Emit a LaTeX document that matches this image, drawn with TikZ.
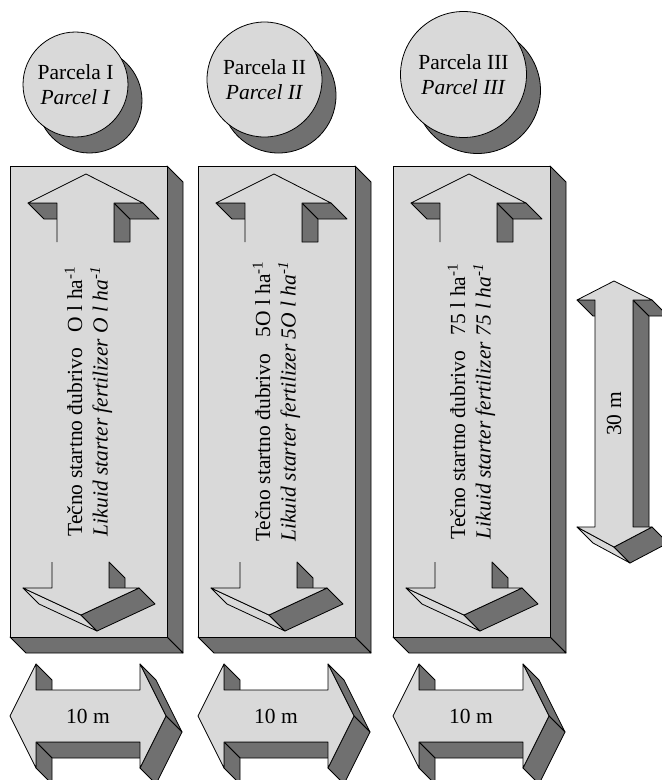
\documentclass[tikz,border=0pt]{standalone}
\usepackage{fontspec}
\setmainfont{Liberation Serif}
\definecolor{facegray}{RGB}{217,217,217}
\definecolor{sidegray}{RGB}{112,112,112}
\tikzset{
    edge line/.style={draw=black, line width=0.8pt, line join=round}, % Thin outlines
    face/.style={fill=facegray, edge line}, % Front faces
    side/.style={fill=sidegray, edge line}, % Dark depth faces
    parcel/.style={circle, inner sep=0pt, face, txt}, % Parcel discs
    parcel shadow/.style={circle, inner sep=0pt, side}, % Their shadows
    txt/.style={font=\fontsize{21.5}{25.5}\selectfont, align=center},
}

\begin{document}
\begin{tikzpicture}[x=1pt, y=-1pt]
    \useasboundingbox (0,0) rectangle (662,780);

    % Parcels
    \node[parcel shadow, minimum size=105] (p1s) at (89.5,100.5) {};
    \node[parcel, minimum size=105] (p1) at (75.5,84.5) {Parcela I\\\textit{Parcel I}};
    \node[parcel shadow, minimum size=115] (p2s) at (278.5,95.5) {};
    \node[parcel, minimum size=115] (p2) at (264.5,79.5) {Parcela II\\\textit{Parcel II}};
    \node[parcel shadow, minimum size=126] (p3s) at (477.5,90.5) {};
    \node[parcel, minimum size=126] (p3) at (463.5,74.5) {Parcela III\\\textit{Parcel III}};

    % Plots with their arrows
    \foreach \L/\dose [count=\i] in {10/O, 198/5O, 393/75} {
        % box
        \draw[side] (\L+157,166) -- (\L+173,182) -- (\L+173,653) -- (\L+157,637) -- cycle;
        \draw[side] (\L,637) -- (\L+157,637) -- (\L+173,653) -- (\L+16,653) -- cycle;
        \draw[face] (\L,166) rectangle (\L+157,637);
        % up arrow
        \draw[side] (\L+18,203) -- (\L+47,203) -- (\L+63,219) -- (\L+34,219) -- cycle;
        \draw[side] (\L+104,203) -- (\L+120,219) -- (\L+120,242) -- (\L+104,242) -- cycle;
        \draw[side] (\L+104,203) -- (\L+133,203) -- (\L+149,219) -- (\L+120,219) -- cycle;
        \fill[facegray] (\L+47,242) -- (\L+47,203) -- (\L+18,203) -- (\L+76,174)
            -- (\L+133,203) -- (\L+104,203) -- (\L+104,242) -- cycle;
        \draw[edge line] (\L+47,242) -- (\L+47,203) -- (\L+18,203) -- (\L+76,174)
            -- (\L+133,203) -- (\L+104,203) -- (\L+104,242);
        % down arrow
        \draw[side] (\L+99,562) -- (\L+115,578) -- (\L+115,604) -- (\L+99,588) -- cycle;
        \draw[face] (\L+13,588) -- (\L+71,615) -- (\L+87,631) -- (\L+29,604) -- cycle;
        \draw[side] (\L+71,615) -- (\L+129,588) -- (\L+145,604) -- (\L+87,631) -- cycle;
        \fill[facegray] (\L+42,562) -- (\L+42,588) -- (\L+13,588) -- (\L+71,615)
            -- (\L+129,588) -- (\L+99,588) -- (\L+99,562) -- cycle;
        \draw[edge line] (\L+42,562) -- (\L+42,588) -- (\L+13,588) -- (\L+71,615)
            -- (\L+129,588) -- (\L+99,588) -- (\L+99,562);
        % rate text
        \node[txt, rotate=90] (rate\i) at (\L+78.5,401.5)
            {Tečno startno đubrivo\ \ \ \dose\ l ha\textsuperscript{-1}\\
             \textit{Likuid starter fertilizer \dose\ l ha\textsuperscript{-1}}};
        % width arrow
        \draw[side] (\L+26,742) -- (\L+130,742) -- (\L+146,758) -- (\L+42,758) -- cycle;
        \draw[side] (\L+26,742) -- (\L+42,758) -- (\L+42,784) -- (\L+26,768) -- cycle;
        \draw[side] (\L+26,664) -- (\L+42,680) -- (\L+42,706) -- (\L+26,690) -- cycle;
        \draw[side] (\L+130,664) -- (\L+156,716) -- (\L+172,732) -- (\L+146,680) -- cycle;
        \draw[side] (\L+156,716) -- (\L+130,768) -- (\L+146,784) -- (\L+172,732) -- cycle;
        \draw[face] (\L,716) -- (\L+26,664) -- (\L+26,690) -- (\L+130,690) -- (\L+130,664)
            -- (\L+156,716) -- (\L+130,768) -- (\L+130,742) -- (\L+26,742) -- (\L+26,768) -- cycle;
        \node[txt] (width\i) at (\L+78,716) {10 m};
    }

    % Length arrow
    \draw[side] (633,300) -- (649,316) -- (649,543) -- (633,527) -- cycle;
    \draw[side] (577,300) -- (595,300) -- (611,316) -- (593,316) -- cycle;
    \draw[side] (633,300) -- (652,300) -- (668,316) -- (649,316) -- cycle;
    \draw[face] (577,527) -- (614,547) -- (630,563) -- (593,543) -- cycle;
    \draw[side] (614,547) -- (652,527) -- (668,543) -- (630,563) -- cycle;
    \draw[face] (614,281) -- (652,300) -- (633,300) -- (633,527) -- (652,527) -- (614,547)
        -- (577,527) -- (595,527) -- (595,300) -- (577,300) -- cycle;
    \node[txt, rotate=90] (length) at (614,414) {30 m};
\end{tikzpicture}
\end{document}
